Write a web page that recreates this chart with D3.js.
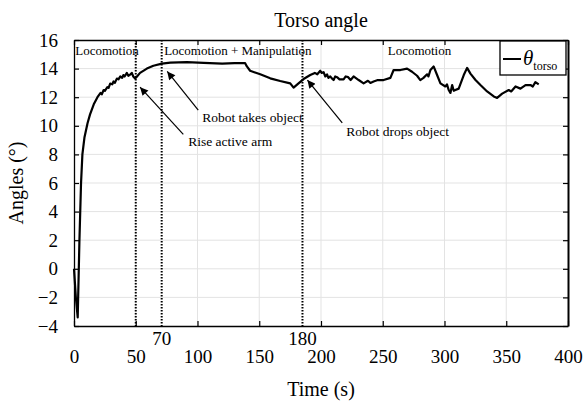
<!DOCTYPE html>
<html>
<head>
<meta charset="utf-8">
<script src="https://cdn.jsdelivr.net/npm/d3@7"></script>
<style>
  body { margin: 0; background: #fff; }
  svg { display: block; font-family: "Liberation Serif", "Times New Roman", serif; }
</style>
</head>
<body>
<div id="chart"></div>
<script>
// Zeitachse (s) und Torso-Winkel (°)
const times = [0, 1.5, 3, 4.4, 5.7, 6.8, 8.5, 11, 13, 16, 19, 21.5, 22.5, 24, 25, 27, 28, 29.3, 31, 32, 33, 34.7, 36, 37.5,
  39, 40, 41, 42.8, 44, 45.7, 46.8, 48, 49.5, 51, 53.5, 59, 64.3, 71.2, 78, 91.4, 105, 120, 130, 138.6, 140,
  142.6, 150.8, 158.9, 167, 175.1, 177.8, 181.8, 185.9, 191.3, 195, 197, 199.4, 200.5, 202.1, 203.5, 204.9, 206, 207.5,
  209, 210.2, 211.5, 213, 215, 218.3, 220, 222, 224, 226.4, 230.5, 234.5, 238, 240, 242.6, 246, 250.7, 256.2, 258.8, 264.3, 269.7, 273.7,
  277.8, 280.4, 283, 285.9, 287, 288.6, 291.2, 294, 296.7, 300.7, 302, 303.4, 304.8, 306.2, 307.5, 308.8, 311.5, 315.6,
  318.3, 321, 325.1, 329.1, 334.5, 339.9, 342.6, 346.7, 352, 354, 357.5, 361.5, 365.6, 369.6, 371.5, 373.6, 376.3];
const angles = [0, -2, -3.4, 2, 6, 8, 9.2, 10.2, 10.8, 11.5, 12.0, 12.3, 12.2, 12.5, 12.45, 12.7, 12.65, 12.95, 12.9, 13.1, 13.0, 13.3, 13.25, 13.45,
  13.35, 13.55, 13.45, 13.7, 13.5, 13.6, 13.7, 13.45, 13.3, 13.45, 13.7, 14.0, 14.2, 14.35, 14.42, 14.45, 14.4, 14.35, 14.38, 14.38, 14.15,
  13.85, 13.6, 13.32, 13.13, 12.97, 12.67, 12.97, 13.27, 13.55, 13.7, 13.6, 13.85, 13.7, 13.75, 13.45, 13.6, 13.35, 13.45,
  13.3, 13.2, 13.45, 13.4, 13.25, 13.25, 13.45, 13.4, 13.2, 13.45, 13.2, 12.97, 13.15, 13.0, 13.1, 13.2, 13.2, 13.35, 13.9, 13.9, 14.0, 13.78,
  13.5, 13.2, 13.35, 13.6, 13.45, 13.9, 14.15, 13.55, 12.97, 12.75, 12.9, 12.5, 12.3, 12.85, 12.45, 12.5, 12.6, 13.55,
  14.05, 13.65, 13.2, 12.85, 12.4, 12.05, 11.95, 12.25, 12.5, 12.4, 12.75, 12.6, 12.85, 12.85, 12.75, 13.05, 12.9];

const xTicks = [0, 50, 100, 150, 200, 250, 300, 350, 400];
const yTicks = [-4, -2, 0, 2, 4, 6, 8, 10, 12, 14, 16];

// senkrechte Phasengrenzen und ihre Zusatzbeschriftung
const markerTimes = [50, 71, 185];
const markerLabels = ["", "70", "180"];

const phaseNames = ["Locomotion", "Locomotion + Manipulation", "Locomotion"];
const phaseStarts = [1, 73, 254];

// Anmerkungen: Pfeilspitze (hx, hy), Pfeilende (tx, ty), Textanfang (lx, ly)
const notes = [
  { text: "Rise active arm", hx: 53.5, hy: 12.7, tx: 88.5, ty: 9.4, lx: 92.5, ly: 8.9 },
  { text: "Robot takes object", hx: 75.5, hy: 13.8, tx: 100.6, ty: 11.1, lx: 103.8, ly: 10.6 },
  { text: "Robot drops object", hx: 189, hy: 13.2, tx: 217.2, ty: 10.2, lx: 220.5, ly: 9.6 }
];

const width = 585, height = 401;
const margin = { top: 40, right: 17, bottom: 75, left: 74 };

const svg = d3.select("#chart").append("svg")
  .attr("width", width)
  .attr("height", height);

const x = d3.scaleLinear().domain([0, 400]).range([margin.left, width - margin.right]);
const y = d3.scaleLinear().domain([-4, 16]).range([height - margin.bottom, margin.top]);

const x0 = x.range()[0], x1 = x.range()[1], y0 = y.range()[0], y1 = y.range()[1];

// Gitter
const grid = svg.append("g").attr("stroke", "#e3e3e3").attr("stroke-width", 1);
grid.selectAll(".gx").data(xTicks.slice(1, -1)).join("line")
  .attr("x1", d => x(d)).attr("x2", d => x(d)).attr("y1", y1).attr("y2", y0);
grid.selectAll(".gy").data(yTicks.slice(1, -1)).join("line")
  .attr("x1", x0).attr("x2", x1).attr("y1", d => y(d)).attr("y2", d => y(d));

// Achsen mit Ticks nach innen
const axisBottom = svg.append("g").attr("transform", `translate(0,${y0})`)
  .call(d3.axisBottom(x).tickValues(xTicks).tickSizeInner(-5).tickSizeOuter(0).tickPadding(24));
const axisTop = svg.append("g").attr("transform", `translate(0,${y1})`)
  .call(d3.axisTop(x).tickValues(xTicks).tickSizeInner(-5).tickSizeOuter(0).tickFormat(""));
const axisLeft = svg.append("g").attr("transform", `translate(${x0},0)`)
  .call(d3.axisLeft(y).tickValues(yTicks).tickSizeInner(-5).tickSizeOuter(0).tickPadding(16)
    .tickFormat(d => d < 0 ? "\u2212" + Math.abs(d) : d));
const axisRight = svg.append("g").attr("transform", `translate(${x1},0)`)
  .call(d3.axisRight(y).tickValues(yTicks).tickSizeInner(-5).tickSizeOuter(0).tickFormat(""));

[axisBottom, axisTop, axisLeft, axisRight].forEach(g => {
  g.select(".domain").attr("stroke", "#000").attr("stroke-width", 1.3);
  g.selectAll(".tick line").attr("stroke", "#000").attr("stroke-width", 1.2);
  g.selectAll(".tick text").attr("fill", "#000").attr("font-family", "Liberation Serif").attr("font-size", 19);
});
axisRight.select(".domain").attr("stroke-width", 2);

// Phasengrenzen
svg.append("g").selectAll("line").data(markerTimes).join("line")
  .attr("x1", d => x(d)).attr("x2", d => x(d))
  .attr("y1", y1).attr("y2", y0)
  .attr("stroke", "#000").attr("stroke-width", 2)
  .attr("stroke-dasharray", "1.5,1.5");

svg.append("g").selectAll("text").data(markerTimes).join("text")
  .attr("x", d => x(d)).attr("y", y0 + 19)
  .attr("text-anchor", "middle")
  .attr("font-size", 19)
  .text((d, i) => markerLabels[i]);

// Phasennamen
svg.append("g").selectAll("text").data(phaseNames).join("text")
  .attr("x", (d, i) => x(phaseStarts[i])).attr("y", y1 + 15)
  .attr("font-size", 13)
  .text(d => d);

// Kurve
const line = d3.line()
  .x((d, i) => x(times[i]))
  .y(d => y(d));

svg.append("path")
  .datum(angles)
  .attr("fill", "none")
  .attr("stroke", "#000")
  .attr("stroke-width", 2.2)
  .attr("stroke-linejoin", "round")
  .attr("d", line);

// Pfeile
svg.append("defs").append("marker")
  .attr("id", "arrow")
  .attr("viewBox", "0 0 10 10")
  .attr("refX", 10).attr("refY", 5)
  .attr("markerWidth", 11).attr("markerHeight", 8)
  .attr("markerUnits", "userSpaceOnUse")
  .attr("orient", "auto")
  .append("path").attr("d", "M0,0L10,5L0,10z").attr("fill", "#000");

const note = svg.append("g").selectAll("g").data(notes).join("g");
note.append("line")
  .attr("x1", d => x(d.tx)).attr("y1", d => y(d.ty))
  .attr("x2", d => x(d.hx)).attr("y2", d => y(d.hy))
  .attr("stroke", "#000").attr("stroke-width", 1.2)
  .attr("marker-end", "url(#arrow)");
note.append("text")
  .attr("x", d => x(d.lx)).attr("y", d => y(d.ly))
  .attr("dy", "0.35em")
  .attr("font-size", 13.5)
  .text(d => d.text);

// Legende
const legend = svg.append("g").attr("transform", `translate(${x1 - 68},${y1 + 1})`);
legend.append("rect")
  .attr("width", 66).attr("height", 34)
  .attr("fill", "#fff").attr("stroke", "#000").attr("stroke-width", 1.3);
legend.append("line")
  .attr("x1", 3).attr("x2", 21).attr("y1", 18).attr("y2", 18)
  .attr("stroke", "#000").attr("stroke-width", 2);
const lt = legend.append("text").attr("x", 23).attr("y", 24);
lt.append("tspan").attr("font-style", "italic").attr("font-size", 21).text("θ");
lt.append("tspan").attr("font-size", 12).attr("dy", 5).text("torso");

// Titel und Achsenbeschriftungen
svg.append("text")
  .attr("x", (x0 + x1) / 2).attr("y", 27)
  .attr("text-anchor", "middle").attr("font-size", 20)
  .text("Torso angle");

svg.append("text")
  .attr("x", (x0 + x1) / 2).attr("y", 396)
  .attr("text-anchor", "middle").attr("font-size", 20)
  .text("Time (s)");

svg.append("text")
  .attr("transform", `translate(23,${(y0 + y1) / 2}) rotate(-90)`)
  .attr("text-anchor", "middle").attr("font-size", 20)
  .text("Angles (°)");
</script>
</body>
</html>
